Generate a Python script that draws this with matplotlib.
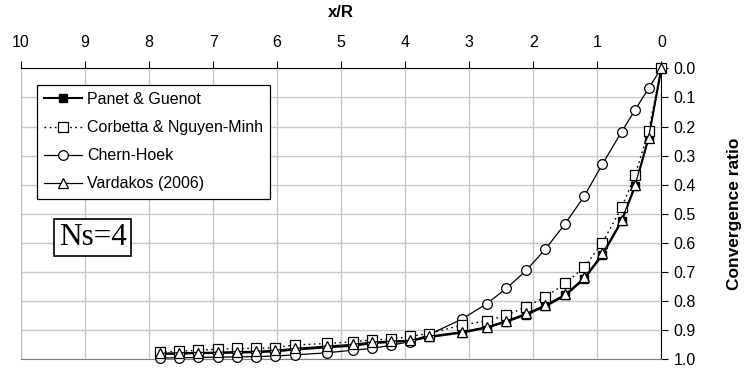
import numpy as np
import matplotlib.pyplot as plt

plt.rcParams['font.family'] = ['Liberation Sans', 'DejaVu Sans']

# x/R positions (shared by all series)
x_r = [7.83, 7.53, 7.23, 6.93, 6.63, 6.33, 6.03, 5.72, 5.22, 4.82, 4.52, 4.22, 3.93,
       3.63, 3.12, 2.73, 2.42, 2.11, 1.81, 1.50, 1.20, 0.92, 0.62, 0.41, 0.20, 0.0]

panet = [0.981, 0.980, 0.978, 0.978, 0.976, 0.975, 0.972, 0.966, 0.958, 0.953, 0.944, 0.940, 0.936,
         0.923, 0.908, 0.891, 0.870, 0.846, 0.817, 0.780, 0.722, 0.641, 0.525, 0.405, 0.240, 0.0]
corbetta = [0.974, 0.972, 0.968, 0.965, 0.962, 0.962, 0.959, 0.950, 0.945, 0.939, 0.933, 0.930, 0.921,
            0.911, 0.882, 0.867, 0.848, 0.819, 0.785, 0.739, 0.682, 0.599, 0.478, 0.367, 0.215, 0.0]
chern = [0.995, 0.994, 0.993, 0.992, 0.991, 0.990, 0.988, 0.984, 0.977, 0.968, 0.962, 0.951, 0.939,
         0.915, 0.862, 0.809, 0.756, 0.694, 0.621, 0.533, 0.438, 0.329, 0.218, 0.143, 0.069, 0.0]
vardakos = [0.979, 0.977, 0.976, 0.975, 0.973, 0.972, 0.968, 0.962, 0.954, 0.948, 0.940, 0.937, 0.934,
            0.920, 0.905, 0.888, 0.867, 0.842, 0.813, 0.776, 0.718, 0.636, 0.521, 0.401, 0.238, 0.0]

x_ticks = np.arange(0, 11, 1)
y_ticks = np.arange(0, 1.01, 0.1)

fig = plt.figure(figsize=(7.45, 3.70), dpi=100)
ax = fig.add_axes([0.0282, 0.0284, 0.8595, 0.787])

ax.plot(x_r, panet, color="black", lw=1.5, marker="s", ms=6, mfc="black", mec="black",
        label="Panet & Guenot", zorder=3, clip_on=False)
ax.plot(x_r, corbetta, color="black", lw=1.0, ls=(0, (1.2, 2.5)), marker="s", ms=7, mfc="white",
        mec="black", mew=0.9, label="Corbetta & Nguyen-Minh", zorder=4, clip_on=False)
ax.plot(x_r, chern, color="black", lw=0.9, marker="o", ms=7, mfc="white", mec="black", mew=0.9,
        label="Chern-Hoek", zorder=3, clip_on=False)
ax.plot(x_r, vardakos, color="black", lw=0.9, marker="^", ms=7, mfc="white", mec="black", mew=0.9,
        label="Vardakos (2006)", zorder=5, clip_on=False)

ax.set_xlim(10, 0)
ax.set_ylim(1.0, 0.0)
ax.set_xticks(x_ticks)
ax.set_xticklabels([str(v) for v in x_ticks])
ax.set_yticks(y_ticks)
ax.set_yticklabels([f"{v:.1f}" for v in y_ticks])

ax.xaxis.tick_top()
ax.xaxis.set_label_position("top")
ax.yaxis.tick_right()
ax.yaxis.set_label_position("right")
ax.tick_params(axis="both", direction="out", length=5, width=0.8, labelsize=11.5)
ax.tick_params(axis="x", pad=8)
ax.tick_params(axis="y", pad=4)

ax.set_xlabel("x/R", fontweight="bold", fontsize=12, labelpad=13)
ax.set_ylabel("Convergence ratio", fontweight="bold", fontsize=12.5, labelpad=22)

ax.grid(True, color="#c8c8c8", lw=1.0)
ax.set_axisbelow(True)
ax.spines["top"].set_color("black")
ax.spines["right"].set_color("black")
ax.spines["left"].set_color("#c0c0c0")
ax.spines["bottom"].set_color("#808080")

leg = ax.legend(loc="upper left", bbox_to_anchor=(0.0245, 0.943), borderaxespad=0,
                fontsize=11.5, fancybox=False, edgecolor="black", framealpha=1,
                handlelength=2.4, handletextpad=0.3, labelspacing=0.82, borderpad=0.45)
leg.get_frame().set_linewidth(0.9)

ax.text(0.112, 0.419, "Ns=4", transform=ax.transAxes, fontsize=22.5, family="Liberation Serif",
        ha="center", va="center",
        bbox=dict(boxstyle="square,pad=0.14", fc="white", ec="black", lw=1.2))

fig.savefig("out.png", dpi=100)
